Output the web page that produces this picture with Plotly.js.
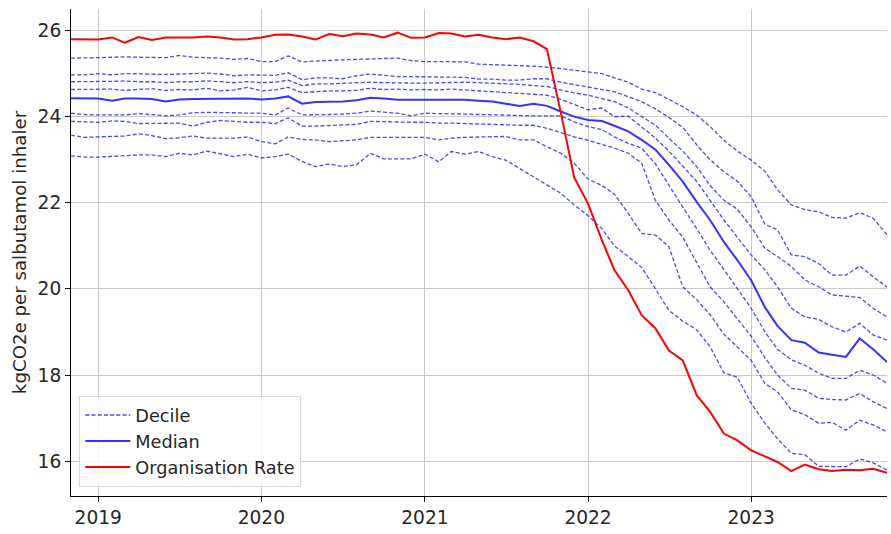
<!DOCTYPE html>
<html>
<head>
<meta charset="utf-8">
<script src="https://cdn.plot.ly/plotly-3.0.1.min.js"></script>
<style>html,body{margin:0;padding:0;background:#fff;}#chart{width:891px;height:534px;}</style>
</head>
<body>
<div id="chart"></div>
<script>
// Monthly observations, Nov 2018 .. Nov 2023
const startYear = 2018, startMonth = 11, nMonths = 61;
const months = [];
for (let k = 0; k < nMonths; k++) {
  const m0 = startMonth - 1 + k;
  const y = startYear + Math.floor(m0 / 12);
  const m = (m0 % 12) + 1;
  months.push(y + '-' + String(m).padStart(2, '0') + '-01');
}

const orgRate = [
  25.80, 25.80, 25.79, 25.84, 25.72, 25.85, 25.78, 25.84, 25.84, 25.84, 25.86,
  25.84, 25.79, 25.80, 25.84, 25.90, 25.91, 25.86, 25.79, 25.92, 25.87, 25.93,
  25.91, 25.84, 25.95, 25.83, 25.84, 25.94, 25.93, 25.86, 25.90, 25.84, 25.80,
  25.84, 25.75, 25.57, 24.10, 22.59, 21.98, 21.13, 20.44, 19.97, 19.39, 19.08,
  18.57, 18.34, 17.53, 17.15, 16.64, 16.48, 16.25, 16.10, 15.98, 15.77, 15.92,
  15.81, 15.77, 15.80, 15.79, 15.82, 15.73
];

const median = [
  24.43, 24.43, 24.42, 24.37, 24.42, 24.42, 24.41, 24.35, 24.40, 24.41, 24.41,
  24.41, 24.41, 24.42, 24.40, 24.42, 24.47, 24.30, 24.34, 24.34, 24.35, 24.38,
  24.44, 24.42, 24.39, 24.39, 24.39, 24.39, 24.40, 24.39, 24.37, 24.35, 24.30,
  24.25, 24.30, 24.25, 24.12, 24.00, 23.92, 23.90, 23.79, 23.66, 23.46, 23.23,
  22.88, 22.49, 22.02, 21.60, 21.09, 20.67, 20.20, 19.57, 19.14, 18.81, 18.75,
  18.52, 18.47, 18.42, 18.85, 18.60, 18.30
];

const decile90 = [
  25.36, 25.36, 25.37, 25.38, 25.39, 25.38, 25.37, 25.37, 25.42, 25.38, 25.37,
  25.36, 25.33, 25.35, 25.28, 25.28, 25.41, 25.27, 25.29, 25.31, 25.32, 25.33,
  25.34, 25.34, 25.36, 25.30, 25.28, 25.28, 25.28, 25.27, 25.22, 25.21, 25.20,
  25.19, 25.17, 25.15, 25.12, 25.08, 25.04, 25.00, 24.90, 24.80, 24.64, 24.56,
  24.40, 24.23, 24.04, 23.77, 23.45, 23.20, 22.99, 22.73, 22.30, 21.95, 21.84,
  21.79, 21.66, 21.64, 21.77, 21.64, 21.26
];

const decile80 = [
  24.97, 24.97, 25.00, 24.97, 25.00, 24.99, 24.98, 24.98, 24.99, 25.00, 25.01,
  24.99, 24.95, 24.97, 24.97, 24.96, 25.02, 24.86, 24.90, 24.90, 24.88, 24.95,
  24.99, 24.96, 24.93, 24.93, 24.92, 24.92, 24.92, 24.91, 24.87, 24.87, 24.85,
  24.85, 24.88, 24.88, 24.80, 24.74, 24.68, 24.63, 24.58, 24.46, 24.35, 24.18,
  23.98, 23.75, 23.35, 23.00, 22.72, 22.50, 22.14, 21.50, 21.37, 20.79, 20.75,
  20.59, 20.32, 20.32, 20.53, 20.28, 20.04
];

const decile70 = [
  24.81, 24.81, 24.81, 24.82, 24.83, 24.81, 24.81, 24.79, 24.81, 24.81, 24.83,
  24.81, 24.79, 24.81, 24.79, 24.80, 24.85, 24.72, 24.76, 24.76, 24.77, 24.78,
  24.80, 24.79, 24.78, 24.78, 24.78, 24.79, 24.80, 24.80, 24.79, 24.78, 24.76,
  24.75, 24.72, 24.70, 24.62, 24.55, 24.50, 24.42, 24.35, 24.20, 24.00, 23.80,
  23.50, 23.20, 22.84, 22.40, 22.06, 21.85, 21.44, 20.94, 20.75, 20.52, 20.21,
  20.05, 19.86, 19.83, 19.80, 19.55, 19.35
];

const decile60 = [
  24.63, 24.63, 24.63, 24.64, 24.61, 24.63, 24.65, 24.61, 24.63, 24.62, 24.66,
  24.60, 24.62, 24.68, 24.60, 24.62, 24.68, 24.56, 24.58, 24.60, 24.60, 24.61,
  24.66, 24.63, 24.64, 24.62, 24.63, 24.62, 24.64, 24.62, 24.60, 24.58, 24.57,
  24.55, 24.53, 24.50, 24.40, 24.28, 24.16, 24.20, 24.00, 24.01, 23.75, 23.50,
  23.20, 22.85, 22.50, 22.06, 21.60, 21.20, 20.79, 20.44, 20.05, 19.55, 19.35,
  19.29, 19.12, 19.00, 19.20, 18.93, 18.81
];

const decile40 = [
  24.08, 24.05, 24.04, 24.04, 24.04, 24.07, 24.05, 24.02, 24.04, 24.09, 24.10,
  24.10, 24.09, 24.08, 24.08, 24.04, 24.20, 24.04, 24.04, 24.05, 24.06, 24.08,
  24.13, 24.10, 24.08, 24.02, 24.08, 24.07, 24.07, 24.06, 24.05, 24.04, 24.03,
  24.03, 24.02, 24.02, 24.02, 23.88, 23.77, 23.70, 23.53, 23.38, 23.27, 22.90,
  22.40, 21.90, 21.40, 20.90, 20.45, 20.00, 19.55, 19.00, 18.60, 18.35, 18.23,
  18.04, 17.92, 17.92, 18.11, 18.00, 17.81
];

const decile30 = [
  23.89, 23.88, 23.87, 23.90, 23.89, 23.84, 23.84, 23.84, 23.85, 23.78, 23.87,
  23.91, 23.89, 23.87, 23.87, 23.84, 23.97, 23.78, 23.78, 23.79, 23.81, 23.82,
  23.89, 23.88, 23.87, 23.87, 23.87, 23.85, 23.85, 23.84, 23.82, 23.81, 23.80,
  23.80, 23.80, 23.73, 23.63, 23.53, 23.45, 23.36, 23.27, 23.15, 22.92, 22.05,
  21.60, 21.20, 20.60, 20.05, 19.70, 19.30, 18.90, 18.40, 18.00, 17.69, 17.65,
  17.46, 17.43, 17.42, 17.57, 17.38, 17.22
];

const decile20 = [
  23.57, 23.52, 23.53, 23.54, 23.55, 23.60, 23.56, 23.49, 23.51, 23.55, 23.50,
  23.50, 23.50, 23.53, 23.42, 23.37, 23.53, 23.47, 23.46, 23.42, 23.44, 23.46,
  23.52, 23.52, 23.52, 23.52, 23.52, 23.46, 23.50, 23.52, 23.53, 23.53, 23.54,
  23.46, 23.46, 23.30, 23.15, 22.92, 22.55, 22.40, 22.20, 21.75, 21.29, 21.25,
  20.98, 20.05, 19.75, 19.40, 18.95, 18.65, 18.34, 17.80, 17.61, 17.19, 17.08,
  16.88, 16.90, 16.72, 16.95, 16.84, 16.68
];

const decile10 = [
  23.09, 23.06, 23.06, 23.08, 23.09, 23.11, 23.11, 23.07, 23.15, 23.11, 23.20,
  23.14, 23.07, 23.13, 23.04, 23.07, 23.13, 22.96, 22.84, 22.90, 22.84, 22.88,
  23.15, 23.02, 23.02, 23.02, 23.13, 22.95, 23.19, 23.13, 23.19, 23.07, 22.99,
  22.80, 22.60, 22.41, 22.22, 21.95, 21.70, 21.40, 21.00, 20.75, 20.50, 20.00,
  19.50, 19.25, 19.05, 18.66, 18.05, 17.95, 17.34, 16.88, 16.52, 16.18, 16.15,
  15.88, 15.87, 15.87, 16.05, 15.96, 15.79
];

const deciles = [decile10, decile20, decile30, decile40, decile60, decile70, decile80, decile90];
const legendNames = ['Decile', 'Median', 'Organisation Rate'];

const traces = [];
deciles.forEach((d, k) => {
  traces.push({
    x: months, y: d, type: 'scatter', mode: 'lines',
    name: legendNames[0], showlegend: k === 0,
    line: {color: 'rgba(0,0,255,0.72)', width: 1.3, dash: '4px,2.2px'},
    hoverinfo: 'skip'
  });
});
traces.push({
  x: months, y: median, type: 'scatter', mode: 'lines',
  name: legendNames[1],
  line: {color: 'rgba(0,0,255,0.8)', width: 2}
});
traces.push({
  x: months, y: orgRate, type: 'scatter', mode: 'lines',
  name: legendNames[2],
  line: {color: '#ff0000', width: 2}
});

const layout = {
  width: 891, height: 534,
  margin: {l: 71, r: 4, t: 9, b: 38, pad: 0},
  paper_bgcolor: '#ffffff', plot_bgcolor: '#ffffff',
  font: {family: 'DejaVu Sans, sans-serif', color: '#262626', size: 18},
  showlegend: true,
  legend: {
    x: 0.0102, y: 0.0185, xanchor: 'left', yanchor: 'bottom',
    bgcolor: 'rgba(255,255,255,0.85)', bordercolor: '#d6d6d6', borderwidth: 1,
    font: {size: 17.7, color: '#262626'}, itemwidth: 45
  },
  xaxis: {
    type: 'date', range: [months[0], months[months.length - 1]],
    tick0: '2019-01-01', dtick: 'M12', tickformat: '%Y',
    showgrid: true, gridcolor: '#cbcbcb', gridwidth: 1,
    showline: true, linecolor: '#000000', linewidth: 1,
    ticks: 'outside', ticklen: 5, tickcolor: '#000000', tickwidth: 1,
    tickfont: {size: 18.6}, zeroline: false
  },
  yaxis: {
    range: [15.19, 26.5], tick0: 16, dtick: 2,
    showgrid: true, gridcolor: '#cbcbcb', gridwidth: 1,
    showline: true, linecolor: '#000000', linewidth: 1,
    ticks: 'outside', ticklen: 5, tickcolor: '#000000', tickwidth: 1,
    tickfont: {size: 18.6}, zeroline: false,
    title: {text: 'kgCO2e per salbutamol inhaler', font: {size: 18.2}, standoff: 6}
  }
};

Plotly.newPlot('chart', traces, layout, {staticPlot: true, displayModeBar: false});
</script>
</body>
</html>
